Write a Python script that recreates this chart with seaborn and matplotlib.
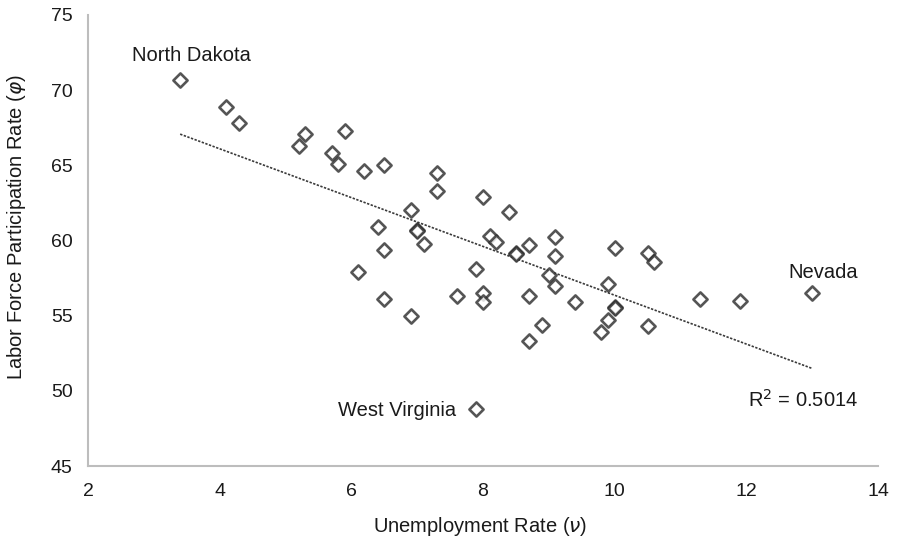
import matplotlib
matplotlib.use("Agg")
import matplotlib.pyplot as plt
import seaborn as sns
import pandas as pd

# State unemployment rate vs. labor force participation rate (%)
unemployment = [3.4, 4.1, 4.3, 5.3, 5.2, 5.9, 5.7, 5.8, 6.2, 6.5,
                6.4, 7.3, 7.3, 6.9, 8.0, 8.4, 7.0, 7.0, 6.5, 6.1,
                6.5, 7.1, 8.1, 8.2, 8.5, 8.5, 8.7, 9.1, 9.1, 10.0,
                10.5, 7.9, 9.0, 9.1, 9.9, 7.6, 8.0, 8.0, 8.7, 9.4,
                10.0, 10.0, 9.9, 9.8, 8.9, 8.7, 6.9, 10.5, 7.9, 10.6,
                11.3, 11.9, 13.0]
participation = [70.7, 68.9, 67.8, 67.1, 66.3, 67.3, 65.8, 65.1, 64.6, 65.0,
                 60.9, 64.5, 63.3, 62.0, 62.9, 61.9, 60.7, 60.6, 59.4, 57.9,
                 56.1, 59.8, 60.3, 59.9, 59.2, 59.1, 59.7, 60.2, 59.0, 59.5,
                 59.2, 58.1, 57.7, 57.0, 57.1, 56.3, 56.5, 55.9, 56.3, 55.9,
                 55.6, 55.5, 54.7, 53.9, 54.4, 53.3, 55.0, 54.3, 48.8, 58.6,
                 56.1, 56.0, 56.5]

label_names = ["North Dakota", "West Virginia", "Nevada"]
label_x = [2.67, 5.79, 13.17]
label_y = [72.3, 48.7, 57.9]
label_ha = ["left", "left", "center"]
r_squared_text = "R$^2$ = 0.5014"

df = pd.DataFrame({"u": unemployment, "p": participation})

sns.set_theme(style="white")
plt.rcParams["font.family"] = ["Liberation Sans", "DejaVu Sans"]

TEXT = "#1a1a1a"
FS = 14.5

fig = plt.figure(figsize=(8.98, 5.41), dpi=100)
ax = fig.add_axes([0.098, 0.1386, 0.8797, 0.8337])

sns.regplot(data=df, x="u", y="p", ax=ax, ci=None, truncate=True,
            marker="D",
            scatter_kws=dict(s=52, facecolors="white", edgecolors="#2b2b2b",
                             linewidths=1.9, zorder=3),
            line_kws=dict(color="#3a3a3a", lw=1.2, linestyle=(0, (1.4, 0.9)),
                          zorder=2))

for name, x, y, ha in zip(label_names, label_x, label_y, label_ha):
    ax.text(x, y, name, ha=ha, va="center", fontsize=FS, color=TEXT)
ax.text(12.03, 49.4, r_squared_text, ha="left", va="center",
        fontsize=FS, color=TEXT)

ax.set_xlim(2, 14)
ax.set_ylim(45, 75)
ax.set_xticks(range(2, 15, 2))
ax.set_yticks(range(45, 76, 5))

ax.set_xlabel("Unemployment Rate ($\\it{\\nu}$)", fontsize=FS, color=TEXT)
ax.set_ylabel("Labor Force Participation Rate ($\\it{\\varphi}$)", fontsize=FS,
              color=TEXT)
ax.xaxis.label.set_va("center")
ax.yaxis.label.set_va("center")
ax.xaxis.set_label_coords(0.496, -0.133)
ax.yaxis.set_label_coords(-0.09, 0.53)

for side in ["top", "right"]:
    ax.spines[side].set_visible(False)
for side in ["left", "bottom"]:
    ax.spines[side].set_color("#bdbdbd")
    ax.spines[side].set_linewidth(1.5)

ax.tick_params(axis="both", which="major", labelsize=14, labelcolor=TEXT,
               color="#bdbdbd", width=1.5, direction="out")
ax.tick_params(axis="x", length=6, pad=6)
ax.tick_params(axis="y", length=5, pad=6)

fig.savefig("out.png", dpi=100, facecolor="white")
